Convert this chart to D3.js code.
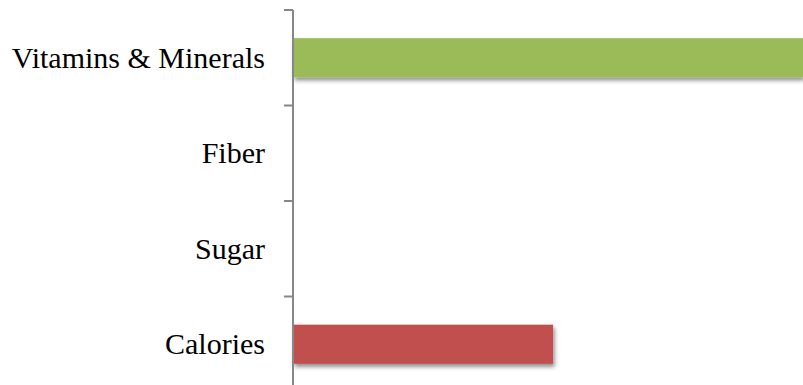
<!DOCTYPE html>
<html>
<head>
<meta charset="utf-8">
<script src="https://cdn.jsdelivr.net/npm/d3@7/dist/d3.min.js"></script>
<style>
  html, body { margin: 0; padding: 0; background: #fff; }
  svg { display: block; }
</style>
</head>
<body>
<svg id="chart" width="803" height="385"></svg>
<script>
// Nutrient categories, top to bottom
const categories = ["Vitamins & Minerals", "Fiber", "Sugar", "Calories"];
// Bar values (percent of the scale maximum)
const values = [100, 0, 0, 51];
const barColors = ["#9BBB59", "#9BBB59", "#9BBB59", "#C0504D"];

const svg = d3.select("#chart");
const axisX = 293;

const y = d3.scaleBand()
  .domain(categories)
  .range([10, 392])
  .paddingInner(0.59)
  .paddingOuter(0.295);

const x = d3.scaleLinear()
  .domain([0, 100])
  .range([axisX, 803]);

// soft drop shadow under the bars
const defs = svg.append("defs");
const f = defs.append("filter").attr("id", "shadow")
  .attr("x", "-5%").attr("y", "-20%").attr("width", "110%").attr("height", "160%");
f.append("feDropShadow")
  .attr("dx", 1.5).attr("dy", 3)
  .attr("stdDeviation", 2)
  .attr("flood-color", "#000")
  .attr("flood-opacity", 0.45);

svg.append("g")
  .selectAll("rect")
  .data(categories)
  .join("rect")
  .filter((d, i) => values[i] > 0)
  .attr("x", x(0))
  .attr("y", d => y(d))
  .attr("width", d => x(values[categories.indexOf(d)]) - x(0))
  .attr("height", y.bandwidth())
  .attr("fill", d => barColors[categories.indexOf(d)])
  .attr("filter", "url(#shadow)");

// category labels via the axis generator
const axis = svg.append("g")
  .attr("transform", `translate(${axisX},0)`)
  .call(d3.axisLeft(y).tickSize(0).tickPadding(28));
axis.select(".domain").remove();
axis.selectAll("text")
  .attr("font-family", "'Liberation Serif', 'Times New Roman', serif")
  .attr("font-size", 30)
  .attr("fill", "#000")
  .attr("dy", "0.33em");

// axis line with tick marks at the category boundaries
const boundaries = categories.map(c => y(c) - y.step() * y.paddingInner() / 2)
  .concat([y.range()[1]]);
boundaries[0] = y.range()[0];

svg.append("line")
  .attr("x1", axisX).attr("x2", axisX)
  .attr("y1", y.range()[0]).attr("y2", y.range()[1])
  .attr("stroke", "#878787").attr("stroke-width", 2);

svg.append("g")
  .selectAll("line")
  .data(boundaries)
  .join("line")
  .attr("x1", axisX - 9).attr("x2", axisX)
  .attr("y1", d => d).attr("y2", d => d)
  .attr("stroke", "#878787").attr("stroke-width", 2);
</script>
</body>
</html>
